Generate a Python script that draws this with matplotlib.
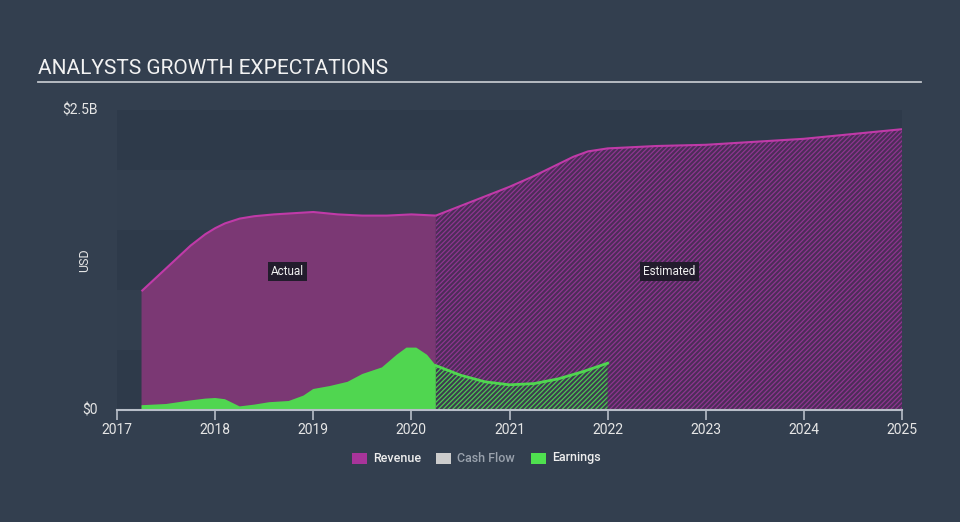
import matplotlib
matplotlib.use("Agg")
import matplotlib.pyplot as plt
from matplotlib.patches import Rectangle

plt.rcParams['font.family'] = ['Roboto', 'DejaVu Sans']
plt.rcParams['hatch.linewidth'] = 0.9

# ---- data (USD billions) ----
rev_act_x = [2017.25, 2017.5, 2017.75, 2017.9, 2018.0, 2018.1, 2018.25, 2018.4, 2018.6, 2018.8, 2019.0, 2019.25, 2019.5, 2019.75, 2020.0, 2020.25]
rev_act_y = [0.99, 1.18, 1.37, 1.465, 1.515, 1.555, 1.595, 1.615, 1.63, 1.64, 1.65, 1.63, 1.62, 1.62, 1.63, 1.62]
rev_est_x = [2020.25, 2020.5, 2020.75, 2021.0, 2021.25, 2021.5, 2021.65, 2021.8, 2022.0, 2022.5, 2023.0, 2023.5, 2024.0, 2024.5, 2025.0]
rev_est_y = [1.62, 1.70, 1.78, 1.86, 1.95, 2.05, 2.11, 2.155, 2.18, 2.20, 2.21, 2.235, 2.26, 2.30, 2.34]
earn_act_x = [2017.25, 2017.5, 2017.75, 2017.9, 2018.0, 2018.1, 2018.25, 2018.4, 2018.55, 2018.75, 2018.9, 2019.0, 2019.17, 2019.35, 2019.5, 2019.7, 2019.85, 2019.95, 2020.05, 2020.16, 2020.25]
earn_act_y = [0.04, 0.05, 0.08, 0.095, 0.10, 0.09, 0.03, 0.045, 0.065, 0.075, 0.12, 0.175, 0.20, 0.235, 0.30, 0.355, 0.46, 0.52, 0.52, 0.46, 0.37]
earn_est_x = [2020.25, 2020.5, 2020.75, 2021.0, 2021.25, 2021.5, 2021.75, 2022.0]
earn_est_y = [0.37, 0.29, 0.235, 0.21, 0.22, 0.26, 0.32, 0.39]
year_ticks = [2017, 2018, 2019, 2020, 2021, 2022, 2023, 2024, 2025]
y_ticks = [0, 2.5]
y_tick_labels = ['$0', '$2.5B']
legend_labels = ['Revenue', 'Cash Flow', 'Earnings']

BG = '#333f4f'
BAND_DARK = '#2e3a4a'
BAND_LIGHT = '#323e4e'
REV_LINE = '#c03aa8'
REV_FILL = '#7b3874'
REV_EST_FACE = '#4c2d58'
REV_HATCH = '#8e3590'
EARN = '#50d650'
TEXT = '#e6e6e6'

fig = plt.figure(figsize=(9.6, 5.22), dpi=100, facecolor=BG)
ax = fig.add_axes([117/960, 1-410/522, (902-117)/960, 300/522])
ax.set_facecolor(BG)
ax.set_xlim(2017, 2025)
ax.set_ylim(0, 2.5)

# horizontal bands
for i in range(5):
    lo, hi = i*0.5, (i+1)*0.5
    ax.axhspan(lo, hi, color=BAND_DARK if i % 2 == 0 else BAND_LIGHT, lw=0, zorder=0)

# revenue
ax.fill_between(rev_act_x, 0, rev_act_y, facecolor=REV_FILL, lw=0, zorder=1)
ax.fill_between(rev_est_x, 0, rev_est_y, facecolor=REV_EST_FACE, edgecolor=REV_HATCH,
                hatch='///////', lw=0, zorder=1)
ax.plot(rev_act_x, rev_act_y, color=REV_LINE, lw=1.5, zorder=3, solid_capstyle='butt')
ax.plot(rev_est_x, rev_est_y, color=REV_LINE, lw=1.5, zorder=3, solid_capstyle='butt')

# earnings
ax.fill_between(earn_act_x, 0, earn_act_y, facecolor=EARN, lw=0, zorder=2)
ax.fill_between(earn_est_x, 0, earn_est_y, facecolor='#3e3a50', edgecolor='#4cc850',
                hatch='///////', lw=0, zorder=2)
ax.plot(earn_est_x, earn_est_y, color=EARN, lw=2, zorder=3)

# labels
for txt, xv in [('Actual', 2018.74), ('Estimated', 2022.63)]:
    ax.text(xv, 1.155, txt, color='#f0f0f0', fontsize=8.5, ha='center', va='center', zorder=5,
            bbox=dict(boxstyle='square,pad=0.25', fc='#221c2c', ec='none'))

# axes styling
for s in ['top', 'right', 'left']:
    ax.spines[s].set_visible(False)
ax.spines['bottom'].set_color('#b8bec8')
ax.spines['bottom'].set_linewidth(1.5)
ax.spines['bottom'].set_zorder(4)
ax.set_xticks(year_ticks)
ax.set_xticklabels([str(y) for y in year_ticks])
ax.tick_params(axis='x', colors='#b8bec8', length=7, width=1.2, direction='out', pad=2,
               labelcolor=TEXT, labelsize=10)
ax.set_yticks(y_ticks)
ax.set_yticklabels(y_tick_labels)
ax.tick_params(axis='y', length=0, pad=14, labelcolor=TEXT, labelsize=10)
for lab in ax.get_yticklabels():
    lab.set_va('center')
ytl = ax.get_yticklabels()
ax.set_ylabel('USD', color=TEXT, fontsize=9, labelpad=10)
ax.yaxis.set_label_coords(-(117-91)/785, 0.5)

# title and underline
fig.text(38/960, 1-69/522, 'ANALYSTS GROWTH EXPECTATIONS', color='#f2f2f2', fontsize=15,
         ha='left', va='center')
fig.add_artist(plt.Line2D([38/960, 921/960], [1-82/522, 1-82/522], color='#c0c4ca', lw=1.3))

# legend
leg_colors = ['#a8349a', '#cccccc', '#4fe04f']
leg_text_colors = ['#eeeeee', '#9aa2ad', '#eeeeee']
leg_x = [352, 436, 531]
for lbl, c, tc, x0 in zip(legend_labels, leg_colors, leg_text_colors, leg_x):
    fig.add_artist(Rectangle((x0/960, 1-463.5/522), 15/960, 11/522, facecolor=c, edgecolor='none',
                             transform=fig.transFigure))
    fig.text((x0+21)/960, 1-458/522, lbl, color=tc, fontsize=9, fontweight='medium',
             ha='left', va='center')

fig.savefig('out.png', dpi=100, facecolor=BG)
